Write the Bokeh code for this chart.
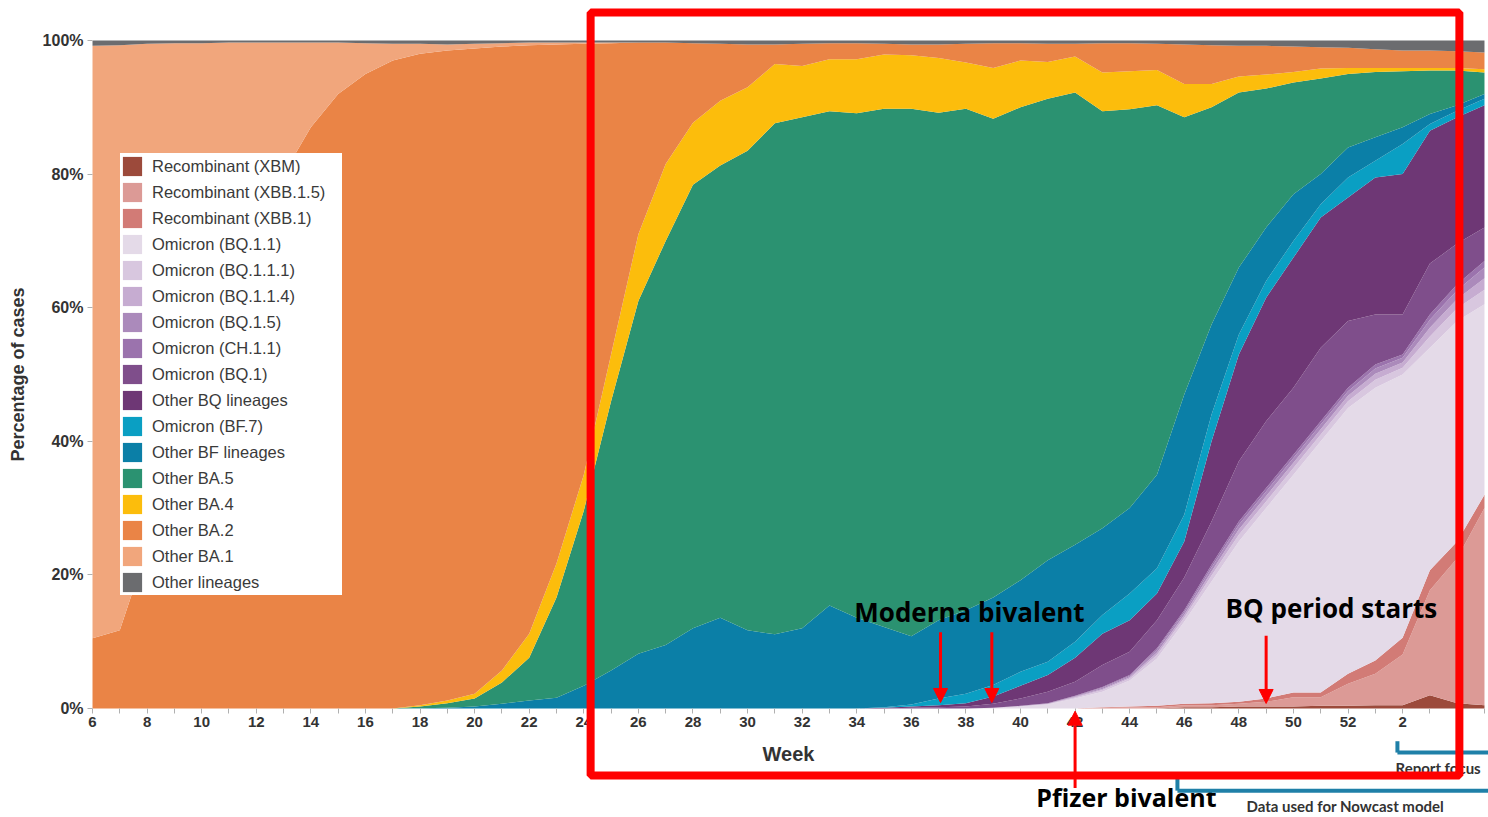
from bokeh.plotting import figure
from bokeh.models import (ColumnDataSource, Legend, LegendItem, FixedTicker, Arrow,
                          NormalHead, Label, BoxAnnotation, Range1d, LinearAxis)
from bokeh.embed import file_html
from bokeh.resources import INLINE

# ---------------- data (percentage of cases per week) ----------------
weeks = [6, 7, 8, 9, 10, 11, 12, 13, 14, 15, 16, 17, 18, 19, 20, 21, 22, 23, 24, 25,
         26, 27, 28, 29, 30, 31, 32, 33, 34, 35, 36, 37, 38, 39, 40, 41, 42, 43, 44, 45,
         46, 47, 48, 49, 50, 51, 52, 1, 2, 3, 4, 5]

xbm = [0]*40 + [0.2, 0.2, 0.3, 0.3, 0.3, 0.4, 0.4, 0.5, 0.5, 2.0, 0.8, 0.5]
xbb_1_5 = [0]*37 + [0.1, 0.15, 0.2, 0.3, 0.3, 0.4, 0.7, 1.4, 1.3, 3.3, 4.7, 7.6, 15.7, 21.7, 29.5]
xbb_1 = [0]*37 + [0.1, 0.15, 0.2, 0.2, 0.3, 0.3, 0.5, 0.7, 0.7, 1.5, 2.0, 2.5, 3.0, 2.5, 2.0]
bq_1_1 = [0]*33 + [0.1, 0.3, 0.6, 1.5, 2.3, 3.9, 7.1, 12.3, 18.2, 24.0, 28.5, 32.6, 37.6,
                   39.8, 40.8, 39.4, 33.3, 33.0, 28.5]
bq_1_1_1 = [0]*34 + [0.04, 0.07, 0.14, 0.25, 0.28, 0.5, 0.6, 0.9, 1.0, 1.0, 1.0, 1.0, 1.0,
                     1.2, 1.0, 1.7, 1.9, 2.2]
bq_1_1_4 = [0]*34 + [0.03, 0.05, 0.1, 0.18, 0.2, 0.4, 0.4, 0.6, 0.8, 0.8, 0.8, 0.8, 0.8,
                     0.9, 0.8, 1.3, 1.4, 1.7]
bq_1_5 = [0]*34 + [0.02, 0.05, 0.1, 0.17, 0.2, 0.4, 0.4, 0.6, 0.7, 0.7, 0.7, 0.7, 0.7,
                   0.8, 0.7, 1.2, 1.3, 1.6]
ch_1_1 = [0]*34 + [0.01, 0.03, 0.06, 0.1, 0.12, 0.2, 0.3, 0.4, 0.5, 0.5, 0.5, 0.5, 0.5,
                   0.6, 0.5, 0.8, 0.9, 1.0]
bq_1 = [0]*30 + [0.1, 0.2, 0.3, 0.6, 1.1, 1.7, 2.1, 3.3, 3.5, 4.2, 4.9, 6.5, 9.0, 10.0,
                 10.0, 11.0, 10.0, 7.5, 6.0, 7.6, 6.1, 5.0]
other_bq = [0]*29 + [0.1, 0.2, 0.3, 0.5, 1.1, 1.9, 2.5, 3.6, 4.7, 4.7, 4.0, 5.4, 12.0,
                     16.0, 18.5, 19.5, 19.5, 18.5, 20.5, 21.0, 19.9, 18.9, 18.3]
bf_7 = [0]*29 + [0.1, 0.3, 1.0, 1.4, 1.7, 2.1, 2.0, 2.4, 2.8, 4.0, 3.8, 4.0, 4.0, 3.0,
                 2.5, 2.5, 2.0, 3.0, 2.5, 4.5, 1.0, 1.0, 1.0]
other_bf = [0]*12 + [0.05, 0.1, 0.3, 0.7, 1.2, 1.6, 3.4, 5.7, 8.2, 9.5, 12.0, 13.6, 11.7,
                     11.1, 12.0, 15.4, 13.6, 12.0, 10.2, 11.7, 12.5, 13.1, 13.7, 15.2, 14.5,
                     13.0, 12.8, 14.0, 18.0, 13.5, 10.0, 8.0, 7.0, 4.5, 4.5, 3.5, 2.5, 1.5,
                     0.8, 0.7]
ba_5 = [0]*12 + [0.25, 0.7, 1.2, 3.2, 6.4, 15.0, 26.2, 40.3, 52.8, 60.5, 66.4, 67.7, 71.8,
                 76.5, 76.5, 74.0, 75.5, 77.6, 79.0, 76.0, 75.1, 71.7, 70.8, 69.1, 67.7,
                 62.4, 59.7, 55.3, 41.5, 32.5, 26.2, 20.8, 16.7, 14.3, 11.0, 9.8, 8.4, 6.5,
                 5.2, 3.2]
ba_4 = [0]*12 + [0.2, 0.4, 0.7, 1.8, 3.6, 5.1, 5.4, 7.0, 10.0, 11.5, 9.3, 9.7, 9.5, 8.9,
                 7.7, 7.8, 8.1, 8.1, 8.0, 8.2, 6.9, 7.6, 7.0, 5.5, 5.4, 5.8, 5.7, 5.3, 5.0,
                 3.5, 2.4, 2.1, 1.6, 1.5, 0.9, 0.6, 0.5, 0.4, 0.4, 0.5]
ba_2 = [10.5, 11.7, 24.0, 36.0, 49.0, 61.0, 71.0, 80.0, 87.0, 92.0, 95.0, 97.0, 97.5, 97.3,
        96.6, 93.4, 88.1, 77.7, 64.5, 46.6, 28.7, 18.2, 11.9, 8.5, 6.4, 2.9, 3.3, 2.4, 2.4,
        1.6, 1.6, 2.0, 2.8, 3.7, 2.6, 2.7, 1.9, 4.4, 4.2, 3.9, 5.9, 5.8, 4.6, 4.3, 3.8, 3.2,
        3.0, 2.8, 2.6, 2.6, 2.5, 2.5]
ba_1 = [88.7, 87.6, 75.5, 63.6, 50.6, 38.7, 28.7, 19.7, 12.7, 7.7, 4.6, 2.5, 1.5, 0.9, 0.7,
        0.5, 0.4, 0.3, 0.2, 0.1] + [0]*32
other_lineages = [0.8, 0.7, 0.5, 0.4, 0.4, 0.3, 0.3, 0.3, 0.3, 0.3, 0.4, 0.5, 0.5, 0.6, 0.5,
                  0.4, 0.3, 0.3, 0.3, 0.3, 0.3, 0.3, 0.4, 0.5, 0.6, 0.6, 0.5, 0.4, 0.4, 0.5,
                  0.6, 0.6, 0.5, 0.4, 0.4, 0.5, 0.5, 0.4, 0.4, 0.5, 0.6, 0.7, 0.8, 0.8, 0.9,
                  1.0, 1.1, 1.3, 1.5, 1.5, 1.6, 1.8]

# stack order from the bottom (= legend order from the top)
series_names = ["Recombinant (XBM)", "Recombinant (XBB.1.5)", "Recombinant (XBB.1)",
                "Omicron (BQ.1.1)", "Omicron (BQ.1.1.1)", "Omicron (BQ.1.1.4)",
                "Omicron (BQ.1.5)", "Omicron (CH.1.1)", "Omicron (BQ.1)",
                "Other BQ lineages", "Omicron (BF.7)", "Other BF lineages",
                "Other BA.5", "Other BA.4", "Other BA.2", "Other BA.1", "Other lineages"]
series_values = [xbm, xbb_1_5, xbb_1, bq_1_1, bq_1_1_1, bq_1_1_4, bq_1_5, ch_1_1, bq_1,
                 other_bq, bf_7, other_bf, ba_5, ba_4, ba_2, ba_1, other_lineages]
series_colors = ["#9c4a3b", "#dc9a96", "#d27b76", "#e4dae8", "#d8c7df", "#c6acd1",
                 "#ab8abb", "#9b73ad", "#7f4e8b", "#6e3775", "#0a9fc3", "#0b7fa7",
                 "#2b9271", "#fcbd0c", "#ea8446", "#f1a67c", "#6b6c6f"]

y_ticks = [0, 20, 40, 60, 80, 100]
y_tick_labels = ["0%", "20%", "40%", "60%", "80%", "100%"]

# ---------------- figure ----------------
idx = list(range(len(weeks)))
data = {"x": idx}
keys = []
for k, vals in enumerate(series_values):
    key = "s%d" % k
    keys.append(key)
    data[key] = vals
source = ColumnDataSource(data)

p = figure(width=1488, height=817, x_range=Range1d(-3.371, 51.147),
           y_range=Range1d(-16.32, 105.99), x_axis_location=None, y_axis_location=None,
           output_backend="svg", toolbar_location=None, min_border=0, title=None)
p.outline_line_color = None
p.background_fill_color = "white"
p.border_fill_color = "white"
p.grid.visible = False

renderers = p.varea_stack(stackers=keys, x="x", color=series_colors, source=source)

# axes drawn at fixed data locations
xaxis = LinearAxis(fixed_location=0, ticker=FixedTicker(ticks=idx), bounds=(0, 51))
xaxis.major_label_overrides = {i: (str(weeks[i]) if (i % 2 == 0 and i <= 48) else "")
                               for i in idx}
xaxis.axis_label = "Week"
xaxis.axis_label_text_font = "Liberation Sans"
xaxis.axis_label_text_font_style = "bold"
xaxis.axis_label_text_font_size = "20px"
xaxis.axis_label_text_color = "#333333"
xaxis.axis_label_standoff = 12
xaxis.major_label_text_font = "Liberation Sans"
xaxis.major_label_text_font_style = "bold"
xaxis.major_label_text_font_size = "15px"
xaxis.major_label_text_color = "#333333"
xaxis.major_label_standoff = 4
xaxis.axis_line_color = None
xaxis.major_tick_line_color = "#b0b0b0"
xaxis.major_tick_in = 0
xaxis.major_tick_out = 5
xaxis.minor_tick_line_color = None
p.add_layout(xaxis, "below")

yaxis = LinearAxis(fixed_location=0, ticker=FixedTicker(ticks=y_ticks), bounds=(0, 100))
yaxis.major_label_overrides = dict(zip(y_ticks, y_tick_labels))
yaxis.axis_label = "Percentage of cases"
yaxis.axis_label_text_font = "Liberation Sans"
yaxis.axis_label_text_font_style = "bold"
yaxis.axis_label_text_font_size = "18px"
yaxis.axis_label_text_color = "#333333"
yaxis.axis_label_standoff = 12
yaxis.major_label_text_font = "Liberation Sans"
yaxis.major_label_text_font_style = "bold"
yaxis.major_label_text_font_size = "16px"
yaxis.major_label_text_color = "#333333"
yaxis.major_label_standoff = 4
yaxis.axis_line_color = None
yaxis.major_tick_line_color = "#b0b0b0"
yaxis.major_tick_in = 0
yaxis.major_tick_out = 5
yaxis.minor_tick_line_color = None
p.add_layout(yaxis, "left")

# legend (top item = bottom of stack)
items = [LegendItem(label=series_names[k], renderers=[renderers[k]])
         for k in range(len(series_names))]
legend = Legend(items=items, location=(120, 222), glyph_width=24, glyph_height=24,
                label_height=26, label_width=190, spacing=0, padding=8, label_standoff=8,
                margin=0, label_text_font="Liberation Sans", label_text_font_size="16.5px",
                label_text_color="#3a3a3a", border_line_color=None,
                background_fill_color="white", background_fill_alpha=1.0)
p.add_layout(legend)

# ---------------- annotations ----------------
RED = "#ff0000"
def red_arrow(x0, y0, x1, y1):
    p.add_layout(Arrow(end=NormalHead(size=14, fill_color=RED, line_color=RED),
                       x_start=x0, y_start=y0, x_end=x1, y_end=y1,
                       line_color=RED, line_width=3))

red_arrow(31.07, 11.4, 31.07, 0.9)
red_arrow(32.95, 11.4, 32.95, 0.9)
red_arrow(43.0, 10.9, 43.0, 0.75)
red_arrow(36.0, -11.9, 36.0, -0.4)

for txt, x, y, fs in [("Moderna bivalent", 32.13, 14.5, "26px"),
                      ("BQ period starts", 45.39, 15.1, "26px"),
                      ("Pfizer bivalent", 37.88, -13.3, "25px")]:
    p.add_layout(Label(x=x, y=y, text=txt, text_font="Open Sans", text_font_style="bold",
                       text_font_size=fs, text_color="black", text_align="center",
                       text_baseline="middle"))

BLUE = "#1f80a8"
def seg(x0, y0, x1, y1):
    p.add_layout(Arrow(end=None, x_start=x0, y_start=y0, x_end=x1, y_end=y1,
                       line_color=BLUE, line_width=4))

seg(47.81, -4.9, 47.81, -6.6)
seg(47.81, -6.6, 53.0, -6.6)
seg(39.75, -10.5, 39.75, -12.3)
seg(39.75, -12.3, 53.0, -12.3)

p.add_layout(Label(x=47.74, y=-8.85, text="Report focus", text_font="Lato",
                   text_font_style="bold", text_font_size="15px", text_color="#333333",
                   text_align="left", text_baseline="middle"))
p.add_layout(Label(x=45.9, y=-14.55, text="Data used for Nowcast model", text_font="Lato",
                   text_font_style="bold", text_font_size="15px", text_color="#333333",
                   text_align="center", text_baseline="middle"))

p.add_layout(BoxAnnotation(left=18.25, right=50.08, top=104.2, bottom=-10.03,
                           fill_alpha=0, line_color=RED, line_width=8, line_alpha=1.0))

open("out.html", "w").write(file_html(p, INLINE))
